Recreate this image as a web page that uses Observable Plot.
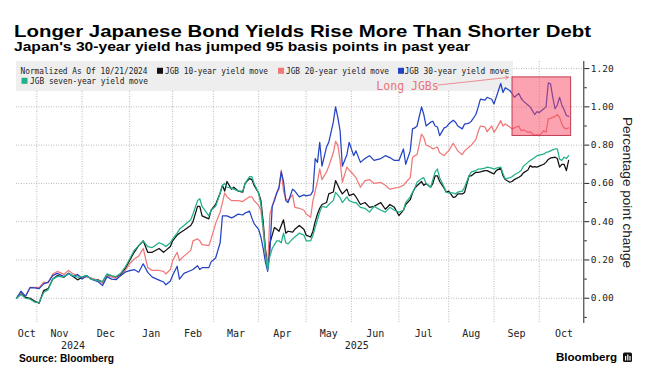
<!DOCTYPE html>
<html><head><meta charset="utf-8">
<script src="https://cdn.jsdelivr.net/npm/d3@7"></script>
<script src="https://cdn.jsdelivr.net/npm/@observablehq/plot@0.6"></script>
<style>
html,body{margin:0;padding:0;background:#fff;}
#wrap{position:relative;width:646px;height:383px;overflow:hidden;background:#fff;}
#chart{position:absolute;left:0;top:56px;}
#overlay{position:absolute;left:0;top:0;pointer-events:none;}
</style></head><body>
<div id="wrap"><div id="chart"></div><svg id="overlay" width="646" height="383"></svg></div>
<script>
// ---------- texts ----------
const title = "Longer Japanese Bond Yields Rise More Than Shorter Debt";
const subtitle = "Japan's 30-year yield has jumped 95 basis points in past year";
const legendNote = "Normalized As Of 10/21/2024";
const seriesNames = ["JGB 10-year yield move", "JGB 20-year yield move", "JGB 30-year yield move", "JGB seven-year yield move"];
const seriesColors = ["#111111", "#f07878", "#2443c4", "#22b08b"];
const yAxisTitle = "Percentage point change";
const sourceText = "Source: Bloomberg";
const brandText = "Bloomberg";
const monthNames = ["Oct","Nov","Dec","Jan","Feb","Mar","Apr","May","Jun","Jul","Aug","Sep","Oct"];
const yearNames = ["2024", "2025"];
const yTicks = [0, 0.2, 0.4, 0.6, 0.8, 1.0, 1.2];
const yMinorTicks = [-0.1, 0.1, 0.3, 0.5, 0.7, 0.9, 1.1];

// Japanese market holidays (the time axis counts trading sessions)
const marketHolidays = ["2024-11-04","2024-12-31","2025-01-01","2025-01-02","2025-01-03","2025-01-13",
  "2025-02-11","2025-02-24","2025-03-20","2025-04-29","2025-05-05","2025-05-06","2025-07-21",
  "2025-08-11","2025-09-15","2025-09-23","2025-10-13","2025-11-03","2025-11-24"];

// ---------- data: trading session since 10/21/2024 and yield moves (pct pts) ----------
const session = [0,2,4,6,8,10,12,14,16,18,21,23,25,27,29,31,33,36,38,40,42,44,46,48,50,52,54,56,58,60,
  63,65,66,68,69,71,72,74,77,78,80,81,82,85,86,88,90,91,92,93,95,96,98,100,101,103,104,105,107,108,
  109,110,111,112,113,114,115,116,117,118,119,120,122,123,125,127,128,130,131,132,133,134,135,137,138,140,141,142,143,144,
  146,147,149,150,152,154,156,158,161,163,165,167,169,171,172,174,175,176,177,179,180,181,183,184,
  185,186,187,189,190,191,193,194,195,197,198,200,201,203,204,205,207,208,210,211,212,214,215,216,
  218,219,220,222,223,224,226,227,228,229,230,231,233,234,235,236,237,238,239,240,241,242,243,244];

const jgb30 = [0,.037,.01,.055,.054,.05,.075,.084,.118,.13,.113,.13,.113,.124,.10,.118,.10,.087,.066,.113,.10,.097,.118,.136,.144,.15,.136,.18,.135,.11,
  .095,.085,.07,.09,.12,.167,.10,.13,.145,.15,.17,.15,.16,.16,.19,.21,.29,.43,.43,.43,.42,.425,.44,.435,.445,.455,.42,.39,.36,.32,
  .26,.19,.14,.25,.48,.51,.55,.58,.66,.61,.51,.50,.57,.56,.53,.54,.535,.54,.56,.73,.71,.815,.69,.79,.815,.92,1.0,.945,.875,.69,
  .75,.815,.745,.77,.71,.73,.745,.72,.73,.745,.735,.72,.72,.78,.70,.77,.885,.89,.90,1.0,.96,.90,.92,.925,
  .90,.895,.85,.89,.895,.91,.93,.92,.90,.885,.91,.915,.925,.96,.997,1.04,1.035,1.05,1.04,1.015,1.05,1.122,1.075,1.10,
  1.085,1.07,1.05,1.07,1.045,1.03,1.01,1.0,.98,.96,.975,.97,.99,1.0,1.125,1.12,1.05,.99,1.01,1.05,1.01,.985,.955,.95];

const jgb20 = [0,.03,.01,.057,.057,.055,.084,.08,.127,.14,.125,.145,.127,.12,.11,.11,.107,.092,.078,.118,.113,.104,.118,.144,.18,.205,.22,.26,.16,.145,
  .145,.14,.127,.15,.197,.24,.197,.22,.25,.30,.31,.30,.28,.275,.31,.39,.45,.50,.55,.53,.51,.51,.51,.505,.515,.53,.53,.51,.485,.46,
  .36,.23,.16,.44,.48,.52,.55,.57,.67,.56,.52,.51,.54,.475,.47,.46,.44,.423,.51,.56,.61,.676,.62,.66,.69,.76,.82,.80,.72,.606,
  .685,.67,.645,.63,.58,.615,.62,.60,.605,.59,.57,.575,.58,.59,.605,.63,.735,.745,.75,.858,.84,.80,.79,.78,
  .785,.79,.76,.745,.76,.77,.81,.79,.77,.75,.77,.79,.80,.83,.87,.90,.895,.87,.90,.867,.885,.928,.90,.91,
  .895,.885,.89,.90,.875,.88,.867,.87,.86,.85,.855,.85,.875,.867,.937,.94,.945,.95,.96,.945,.91,.89,.885,.89];

const jgb10 = [0,.026,.005,0,-.015,-.026,.04,.05,.10,.118,.11,.13,.113,.096,.11,.118,.10,.096,.084,.124,.113,.11,.124,.153,.197,.24,.275,.30,.24,.24,
  .26,.24,.25,.27,.30,.33,.34,.355,.38,.40,.48,.48,.43,.415,.46,.49,.55,.59,.56,.61,.57,.58,.56,.555,.60,.625,.62,.59,.55,.51,
  .40,.26,.16,.29,.33,.37,.36,.35,.38,.41,.34,.35,.345,.36,.38,.36,.33,.32,.35,.40,.44,.47,.49,.50,.545,.555,.615,.59,.565,.545,
  .57,.536,.545,.53,.49,.50,.475,.48,.50,.465,.49,.475,.432,.46,.49,.515,.55,.575,.588,.61,.59,.60,.58,.60,
  .64,.64,.61,.575,.553,.56,.527,.53,.545,.545,.553,.64,.64,.658,.658,.66,.667,.667,.655,.65,.667,.68,.64,.62,
  .606,.61,.62,.632,.64,.655,.67,.693,.685,.688,.685,.69,.70,.71,.725,.733,.735,.737,.73,.685,.70,.70,.667,.72];

const jgb7 = [0,.02,0,-.005,-.02,-.022,.03,.045,.10,.113,.113,.127,.118,.11,.113,.118,.10,.092,.087,.127,.118,.113,.13,.162,.205,.25,.275,.30,.27,.265,
  .29,.28,.27,.29,.31,.34,.36,.38,.41,.44,.51,.52,.48,.43,.46,.48,.55,.59,.60,.58,.575,.57,.56,.56,.60,.635,.635,.60,.55,.49,
  .37,.23,.15,.22,.26,.28,.30,.30,.29,.34,.29,.284,.31,.32,.34,.33,.30,.30,.33,.37,.41,.45,.48,.475,.49,.51,.553,.54,.525,.50,
  .53,.51,.50,.50,.475,.47,.45,.48,.46,.45,.475,.46,.45,.46,.50,.53,.553,.575,.606,.625,.63,.60,.58,.62,
  .66,.675,.63,.58,.553,.55,.55,.545,.555,.56,.58,.64,.66,.667,.675,.675,.68,.685,.68,.675,.68,.685,.65,.623,
  .63,.635,.645,.658,.667,.69,.71,.72,.727,.735,.745,.748,.753,.762,.765,.77,.775,.78,.78,.727,.72,.737,.73,.745];

// annotation (in data units: session, pct pts)
const highlightBox = [{from: 219.2, to: 245.1, low: 0.848, high: 1.154}];
const calloutLabel = [{session: 172.8, value: 1.109, text: "Long JGBs"}];
const calloutArrow = [{s1: 186.3, v1: 1.114, s2: 217.4, v2: 1.154}];

// ---------- trading calendar ----------
const fmtDay = d3.utcFormat("%Y-%m-%d"), fmtMonth = d3.utcFormat("%Y-%m");
const holidaySet = new Set(marketHolidays);
const calendar = d3.utcDays(new Date(Date.UTC(2024, 9, 21)), new Date(Date.UTC(2025, 11, 1)))
  .filter(d => d.getUTCDay() % 6 !== 0 && !holidaySet.has(fmtDay(d)));
const firstSession = new Map();
calendar.forEach((d, i) => { const k = fmtMonth(d); if (!firstSession.has(k)) firstSession.set(k, i); });
const monthKeys = [...firstSession.keys()];
const monthBounds = monthKeys.slice(1, 13).map(k => firstSession.get(k));
const monthLabels = monthNames.map((name, i) => ({name, mid: (firstSession.get(monthKeys[i]) + firstSession.get(monthKeys[i + 1])) / 2}));
const xDomain = [0, 250.7];
const yDomain = [-0.132, 1.237];
const jan = firstSession.get("2025-01");
const yearLabels = [{name: yearNames[0], mid: jan / 2}, {name: yearNames[1], mid: (jan + xDomain[1]) / 2}];

const seriesValues = [jgb10, jgb20, jgb30, jgb7];
const rows = seriesValues.map(vals => session.map((s, i) => ({s, v: vals[i]})));

const mono = "'DejaVu Sans Mono', monospace";
const chart = Plot.plot({
  width: 646, height: 327,
  marginTop: 5, marginBottom: 60, marginLeft: 16, marginRight: 62.7,
  x: {type: "linear", domain: xDomain, axis: null},
  y: {domain: yDomain},
  style: {fontFamily: mono, fontSize: "9.5px", color: "#222", background: "transparent", overflow: "visible"},
  marks: [
    Plot.gridY(yTicks, {stroke: "#b9b9b9", strokeOpacity: 1, strokeDasharray: "1,1.5"}),
    Plot.gridX(monthBounds, {stroke: "#b9b9b9", strokeOpacity: 1, strokeDasharray: "1,1.5"}),
    ...rows.map((r, i) => Plot.line(r, {x: "s", y: "v", stroke: seriesColors[i], strokeWidth: 1.25})),
    Plot.rect(highlightBox, {x1: "from", x2: "to", y1: "low", y2: "high", fill: "#f74761", fillOpacity: 0.5, stroke: "#c23a50", strokeWidth: 1}),
    Plot.arrow(calloutArrow, {x1: "s1", y1: "v1", x2: "s2", y2: "v2", stroke: "#e8747c", strokeWidth: 0.8, headLength: 6}),
    Plot.text(calloutLabel, {x: "session", y: "value", text: "text", fill: "#e8747c", fontSize: 11.5, fontFamily: mono, lineAnchor: "middle"}),
    Plot.axisY(yTicks, {anchor: "right", tickSize: 5, tickPadding: 2, tickFormat: d3.format(".2f"), label: null, fontSize: 9.5}),
    Plot.axisY(yMinorTicks, {anchor: "right", tickSize: 2.5, tickFormat: () => "", label: null}),
    Plot.ruleX([xDomain[1]], {stroke: "#222", strokeWidth: 1}),
    Plot.text(monthLabels, {x: "mid", text: "name", frameAnchor: "bottom", lineAnchor: "middle", dy: 10, fontSize: 10, fill: "#222"}),
    Plot.text(yearLabels, {x: "mid", text: "name", frameAnchor: "bottom", lineAnchor: "middle", dy: 22, fontSize: 10, fill: "#222"})
  ]
});
document.getElementById("chart").appendChild(chart);

// legend background sits above the grid but beneath the series lines
const chartTop = 56;
const firstLine = chart.querySelector("g[aria-label='line']");
const legendBg = document.createElementNS("http://www.w3.org/2000/svg", "rect");
legendBg.setAttribute("x", 16); legendBg.setAttribute("y", 61 - chartTop);
legendBg.setAttribute("width", 497); legendBg.setAttribute("height", 30);
legendBg.setAttribute("fill", "#eeeeee");
if (firstLine) firstLine.parentNode.insertBefore(legendBg, firstLine); else chart.appendChild(legendBg);

// ---------- overlay: titles, legend text, footer ----------
const ov = d3.select("#overlay");
function txt(x, y, s, o) {
  const t = ov.append("text").attr("x", x).attr("y", y).text(s)
    .attr("font-family", o.family || "'Liberation Sans', Arial, sans-serif")
    .attr("font-size", o.size).attr("font-weight", o.weight || "normal").attr("fill", o.fill || "#000");
  if (o.len) t.attr("textLength", o.len).attr("lengthAdjust", "spacingAndGlyphs");
  if (o.transform) t.attr("transform", o.transform);
  if (o.anchor) t.attr("text-anchor", o.anchor);
  return t;
}
txt(14, 36.5, title, {size: 16.5, weight: "bold", len: 577});
txt(14, 51, subtitle, {size: 12, weight: "bold", len: 456});

txt(20.5, 74.3, legendNote, {family: mono, size: 9, fill: "#222", len: 127});
const legendItems = [
  {sx: 157, tx: 165, y: 74.3, len: 103},
  {sx: 278, tx: 286, y: 74.3, len: 103},
  {sx: 398, tx: 404.5, y: 74.3, len: 104.5},
  {sx: 21.5, tx: 30, y: 84.3, len: 118}
];
legendItems.forEach((it, i) => {
  ov.append("rect").attr("x", it.sx).attr("y", it.y - 6.5).attr("width", 6).attr("height", 6).attr("fill", seriesColors[i]);
  txt(it.tx, it.y, seriesNames[i], {family: mono, size: 9, fill: "#222", len: it.len});
});

txt(0, 0, yAxisTitle, {size: 12.5, fill: "#222", len: 151, anchor: "middle", transform: "translate(622.5,192.5) rotate(90)"});

txt(19, 362, sourceText, {size: 10, weight: "bold", len: 95});
txt(556, 360.5, brandText, {size: 11.5, weight: "bold", len: 61});
ov.append("rect").attr("x", 623).attr("y", 352.5).attr("width", 9).attr("height", 9.5).attr("rx", 1.5).attr("fill", "#111");
[625, 627.2, 629.4].forEach((bx, i) => ov.append("rect").attr("x", bx).attr("y", 354.5 + (i === 1 ? 0 : 1.5)).attr("width", 1.2).attr("height", i === 1 ? 6 : 4.5).attr("fill", "#fff"));
</script>
</body></html>
